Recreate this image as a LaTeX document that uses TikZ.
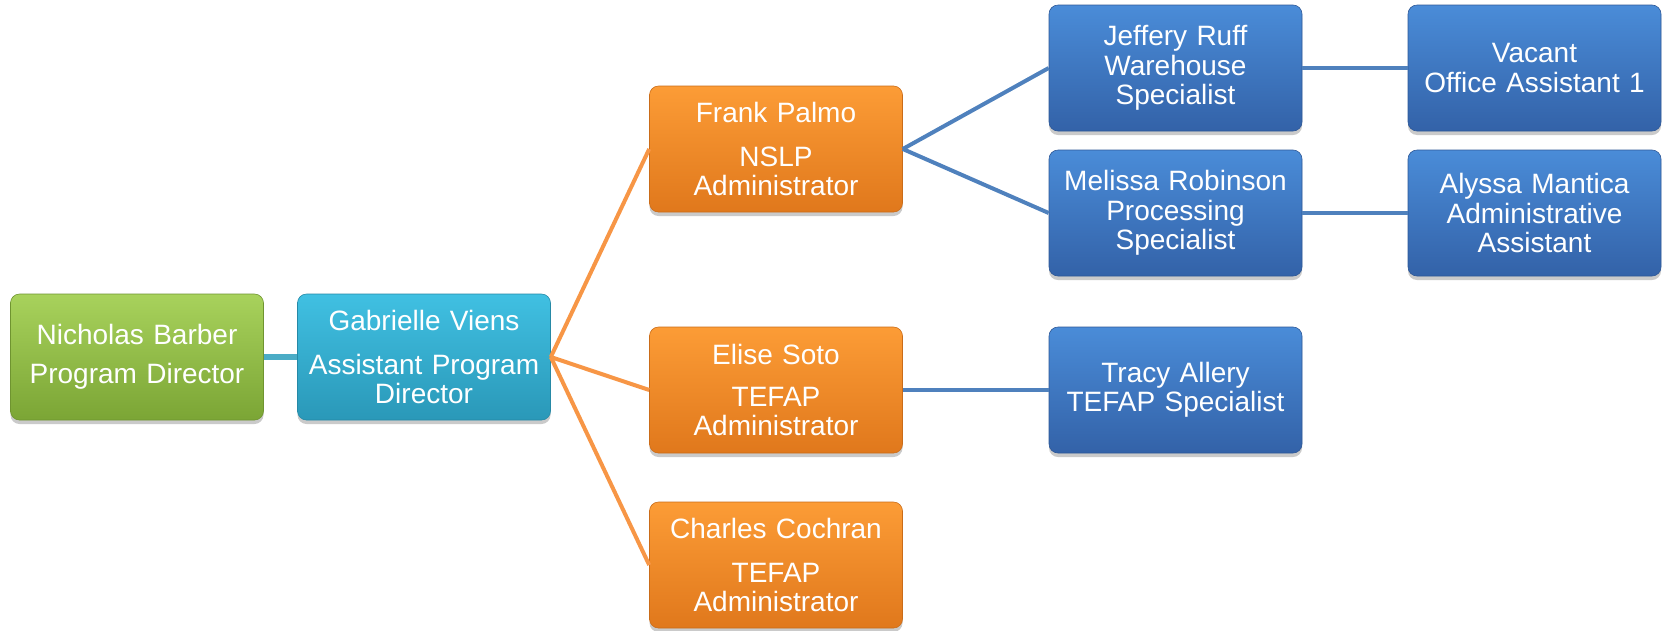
\documentclass[tikz,border=0pt]{standalone}
\usepackage{fontspec}
\setmainfont{Liberation Sans}
\usetikzlibrary{shadows}
\definecolor{gtop}{HTML}{A8D25C}
\definecolor{gbot}{HTML}{7BA535}
\definecolor{ctop}{HTML}{40C0E2}
\definecolor{cbot}{HTML}{2A98B8}
\definecolor{otop}{HTML}{FC9C36}
\definecolor{obot}{HTML}{E0781C}
\definecolor{btop}{HTML}{4A8CD8}
\definecolor{bbot}{HTML}{3362A8}
\definecolor{lcyan}{HTML}{4BACC6}
\definecolor{lorange}{HTML}{F79646}
\definecolor{lblue}{HTML}{4F81BD}
\tikzset{
  box/.style={rounded corners=9pt, minimum width=253pt, minimum height=126pt,
    inner sep=0pt, text width=250pt, align=center, text=white,
    font=\fontsize{28}{29.5}\selectfont,
    drop shadow={shadow xshift=0pt, shadow yshift=-4pt, opacity=0.35, fill=black!60}},
  greenbox/.style={box, top color=gtop, bottom color=gbot, draw=gbot!90!black, line width=0.6pt},
  cyanbox/.style={box, top color=ctop, bottom color=cbot, draw=cbot!90!black, line width=0.6pt},
  orangebox/.style={box, top color=otop, bottom color=obot, draw=obot!90!black, line width=0.6pt},
  bluebox/.style={box, top color=btop, bottom color=bbot, draw=bbot!90!black, line width=0.6pt},
  cline/.style={draw=lcyan, line width=6pt},
  oline/.style={draw=lorange, line width=4pt},
  bline/.style={draw=lblue, line width=4pt},
}
\begin{document}
\begin{tikzpicture}[x=1pt,y=-1pt]
\useasboundingbox (0,0) rectangle (1663,630);
% connectors first (behind boxes)
\coordinate (nb) at (137,357);
\coordinate (gv) at (424,357);
\coordinate (fp) at (776,149);
\coordinate (es) at (776,390);
\coordinate (cc) at (776,565);
\coordinate (jr) at (1175.5,68);
\coordinate (mr) at (1175.5,213);
\coordinate (ta) at (1175.5,390);
\coordinate (va) at (1534.5,68);
\coordinate (am) at (1534.5,213);

\node[greenbox] (NB) at (nb) {Nicholas Barber\\[9pt]Program Director};
\node[cyanbox] (GV) at (gv) {Gabrielle Viens\\[14pt]Assistant Program\\Director};
\node[orangebox] (FP) at (fp) {Frank Palmo\\[14pt]NSLP\\Administrator};
\node[orangebox] (ES) at (es) {Elise Soto\\[12pt]TEFAP\\Administrator};
\node[orangebox] (CC) at (cc) {Charles Cochran\\[14pt]TEFAP\\Administrator};
\node[bluebox] (JR) at (jr) {Jeffery Ruff\\Warehouse\\Specialist};
\node[bluebox] (MR) at (mr) {Melissa Robinson\\Processing\\Specialist};
\node[bluebox] (TA) at (ta) {Tracy Allery\\TEFAP Specialist};
\node[bluebox] (VA) at (va) {Vacant\\Office Assistant 1};
\node[bluebox] (AM) at (am) {Alyssa Mantica\\Administrative\\Assistant};

\begin{scope}[on background layer/.try]
\end{scope}
\draw[cline] (NB.east) -- (GV.west);
\draw[oline] (GV.east) -- (FP.west);
\draw[oline] (GV.east) -- (ES.west);
\draw[oline] (GV.east) -- (CC.west);
\draw[bline] (FP.east) -- (JR.west);
\draw[bline] (FP.east) -- (MR.west);
\draw[bline] (ES.east) -- (TA.west);
\draw[bline] (JR.east) -- (VA.west);
\draw[bline] (MR.east) -- (AM.west);
\end{tikzpicture}
\end{document}
